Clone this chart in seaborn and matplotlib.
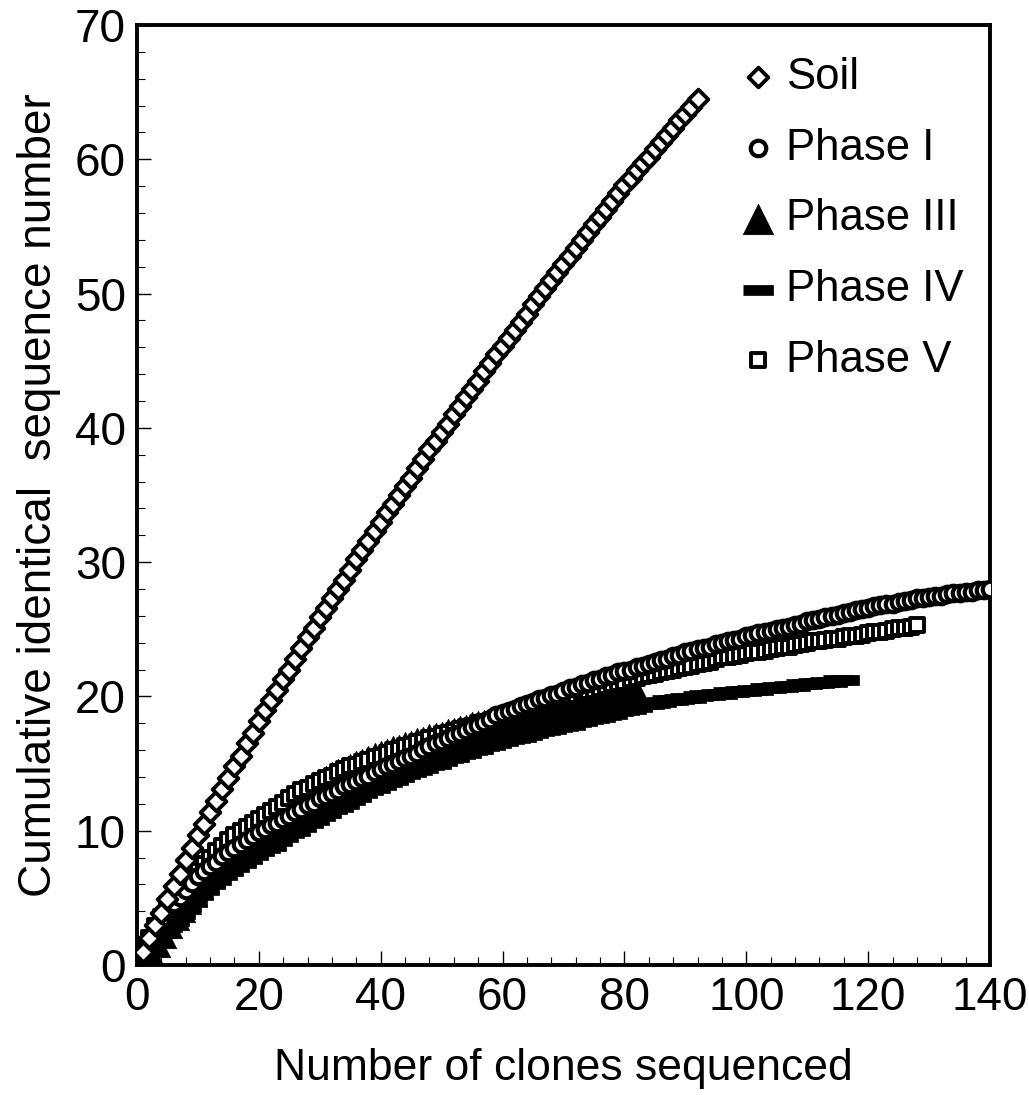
import numpy as np
import pandas as pd
import seaborn as sns
import matplotlib.pyplot as plt
from matplotlib.ticker import MultipleLocator

# === Seaborn settings ===
sns.set_theme(style="white")
plt.rcParams['font.family'] = ['Liberation Sans', 'DejaVu Sans']
plt.rcParams['text.color'] = 'black'
plt.rcParams['axes.labelcolor'] = 'black'
plt.rcParams['xtick.color'] = 'black'
plt.rcParams['ytick.color'] = 'black'

# === Data ===
soil = [1.0, 2.0, 3.0, 3.9, 4.9, 5.9, 6.8, 7.8, 8.7, 9.7,
        10.5, 11.4, 12.2, 13.1, 13.9, 14.8, 15.6, 16.5, 17.3, 18.2,
        19.0, 19.7, 20.5, 21.3, 22.0, 22.8, 23.6, 24.4, 25.1, 25.9,
        26.6, 27.3, 28.0, 28.7, 29.4, 30.2, 30.9, 31.6, 32.3, 33.0,
        33.7, 34.3, 35.0, 35.7, 36.3, 37.0, 37.7, 38.4, 39.0, 39.7,
        40.3, 41.0, 41.6, 42.3, 42.9, 43.5, 44.2, 44.8, 45.5, 46.1,
        46.7, 47.3, 47.9, 48.5, 49.2, 49.8, 50.4, 51.0, 51.6, 52.2,
        52.8, 53.4, 54.0, 54.6, 55.2, 55.7, 56.3, 56.9, 57.5, 58.1,
        58.6, 59.2, 59.7, 60.2, 60.8, 61.3, 61.8, 62.3, 62.9, 63.4,
        63.9, 64.5]

phase_1 = [1.0, 1.9, 2.7, 3.4, 4.0, 4.6, 5.1, 5.6, 6.1, 6.6,
           7.0, 7.4, 7.7, 8.1, 8.4, 8.7, 9.0, 9.3, 9.6, 9.9,
           10.1, 10.4, 10.6, 10.9, 11.1, 11.4, 11.6, 11.9, 12.1, 12.4,
           12.6, 12.8, 13.0, 13.3, 13.5, 13.7, 13.9, 14.1, 14.4, 14.6,
           14.8, 15.0, 15.2, 15.4, 15.6, 15.8, 16.1, 16.3, 16.5, 16.7,
           16.9, 17.1, 17.3, 17.5, 17.7, 17.9, 18.1, 18.3, 18.6, 18.8,
           18.9, 19.1, 19.3, 19.4, 19.6, 19.8, 19.9, 20.1, 20.2, 20.4,
           20.6, 20.7, 20.9, 21.0, 21.2, 21.3, 21.5, 21.6, 21.8, 21.9,
           22.0, 22.2, 22.3, 22.4, 22.6, 22.7, 22.8, 23.0, 23.1, 23.3,
           23.4, 23.5, 23.6, 23.7, 23.9, 24.0, 24.1, 24.2, 24.3, 24.5,
           24.6, 24.7, 24.8, 24.9, 25.0, 25.1, 25.2, 25.3, 25.4, 25.6,
           25.7, 25.8, 25.9, 26.0, 26.1, 26.2, 26.3, 26.4, 26.5, 26.6,
           26.7, 26.8, 26.9, 26.9, 27.0, 27.1, 27.2, 27.3, 27.3, 27.4,
           27.5, 27.5, 27.6, 27.7, 27.7, 27.8, 27.8, 27.9, 27.9, 28.0]

phase_3 = [0.4, 1.0, 1.7, 2.4, 3.1, 3.7, 4.3, 4.9, 5.5, 6.0,
           6.5, 7.0, 7.5, 8.0, 8.4, 8.8, 9.2, 9.6, 10.0, 10.4,
           10.8, 11.1, 11.5, 11.8, 12.1, 12.4, 12.7, 13.0, 13.2, 13.5,
           13.7, 14.0, 14.2, 14.4, 14.6, 14.8, 15.0, 15.2, 15.4, 15.6,
           15.7, 15.9, 16.0, 16.2, 16.3, 16.5, 16.6, 16.8, 16.9, 17.0,
           17.2, 17.3, 17.4, 17.5, 17.7, 17.8, 17.9, 18.0, 18.1, 18.2,
           18.3, 18.4, 18.5, 18.6, 18.7, 18.8, 18.9, 19.0, 19.1, 19.2,
           19.3, 19.4, 19.5, 19.6, 19.6, 19.7, 19.8, 19.9, 19.9, 20.0,
           20.1, 20.1]

phase_4 = [1.0, 1.5, 2.0, 2.4, 2.8, 3.3, 3.8, 4.3, 4.7, 5.2,
           5.6, 6.0, 6.3, 6.7, 7.0, 7.3, 7.6, 7.9, 8.2, 8.5,
           8.7, 8.9, 9.2, 9.5, 9.8, 10.0, 10.3, 10.6, 10.8, 11.1,
           11.3, 11.6, 11.8, 12.0, 12.3, 12.5, 12.8, 13.0, 13.2, 13.4,
           13.6, 13.8, 14.0, 14.2, 14.4, 14.5, 14.7, 14.9, 15.0, 15.2,
           15.4, 15.5, 15.7, 15.8, 16.0, 16.1, 16.3, 16.4, 16.5, 16.7,
           16.8, 16.9, 17.0, 17.1, 17.3, 17.4, 17.5, 17.6, 17.7, 17.8,
           17.9, 18.1, 18.2, 18.3, 18.4, 18.5, 18.6, 18.7, 18.9, 19.0,
           19.1, 19.2, 19.4, 19.4, 19.5, 19.6, 19.7, 19.7, 19.8, 19.9,
           19.9, 20.0, 20.1, 20.1, 20.2, 20.2, 20.3, 20.3, 20.4, 20.4,
           20.5, 20.5, 20.6, 20.6, 20.7, 20.7, 20.8, 20.8, 20.9, 20.9,
           21.0, 21.0, 21.1, 21.1, 21.2, 21.2]

phase_5 = [1.0, 2.0, 2.9, 3.6, 4.2, 4.8, 5.4, 6.0, 6.5, 7.0,
           7.5, 8.0, 8.5, 8.9, 9.3, 9.7, 10.0, 10.3, 10.6, 10.9,
           11.2, 11.5, 11.8, 12.1, 12.4, 12.7, 13.0, 13.2, 13.5, 13.7,
           13.9, 14.1, 14.4, 14.6, 14.8, 14.9, 15.1, 15.3, 15.5, 15.6,
           15.8, 16.0, 16.1, 16.3, 16.4, 16.6, 16.7, 16.9, 17.0, 17.2,
           17.3, 17.4, 17.6, 17.7, 17.8, 18.0, 18.1, 18.2, 18.4, 18.5,
           18.6, 18.8, 18.9, 19.0, 19.2, 19.3, 19.5, 19.6, 19.8, 19.9,
           20.0, 20.1, 20.3, 20.4, 20.5, 20.6, 20.8, 20.9, 21.0, 21.1,
           21.3, 21.4, 21.5, 21.6, 21.7, 21.8, 21.9, 22.0, 22.1, 22.2,
           22.3, 22.4, 22.5, 22.6, 22.8, 22.9, 22.9, 23.0, 23.1, 23.2,
           23.3, 23.3, 23.4, 23.5, 23.6, 23.7, 23.7, 23.8, 23.9, 24.0,
           24.1, 24.1, 24.2, 24.3, 24.3, 24.4, 24.5, 24.5, 24.6, 24.7,
           24.8, 24.8, 24.9, 25.0, 25.1, 25.1, 25.2, 25.3]

sample_names = ["Soil", "Phase I", "Phase III", "Phase IV", "Phase V"]
sample_values = [soil, phase_1, phase_3, phase_4, phase_5]

# === Tidy table ===
frames = []
for name, vals in zip(sample_names, sample_values):
    frames.append(pd.DataFrame({
        "Clones": np.arange(1, len(vals) + 1),
        "Identical": vals,
        "Sample": name,
    }))
df = pd.concat(frames, ignore_index=True)

# === Marker styles ===
dash = [(-1, -0.34), (1, -0.34), (1, 0.34), (-1, 0.34)]
styles = {
    "Soil": dict(marker="D", s=100, facecolor="white", edgecolor="black", linewidth=2.8),
    "Phase I": dict(marker="o", s=125, facecolor="white", edgecolor="black", linewidth=3.0),
    "Phase III": dict(marker="^", s=480, facecolor="black", edgecolor="black", linewidth=0.5),
    "Phase IV": dict(marker=dash, s=480, facecolor="black", edgecolor="black", linewidth=0.5),
    "Phase V": dict(marker="s", s=100, facecolor="white", edgecolor="black", linewidth=2.8),
}
draw_order = ["Phase III", "Phase IV", "Phase V", "Phase I", "Soil"]

# === Plot ===
fig, ax = plt.subplots(figsize=(10.29, 10.95), dpi=100)
fig.subplots_adjust(left=0.1331, right=0.9621, top=0.9772, bottom=0.1187)

handles = {}
for z, name in enumerate(draw_order):
    sub = df[df["Sample"] == name]
    sns.scatterplot(data=sub, x="Clones", y="Identical", ax=ax,
                    label=name, zorder=3 + z, legend=False, **styles[name])
    handles[name] = ax.collections[-1]

ax.set_xlim(0, 140)
ax.set_ylim(0, 70)
ax.xaxis.set_major_locator(MultipleLocator(20))
ax.xaxis.set_minor_locator(MultipleLocator(4))
ax.yaxis.set_major_locator(MultipleLocator(10))
ax.yaxis.set_minor_locator(MultipleLocator(2))
ax.tick_params(which="major", direction="in", length=10, width=1.0,
               labelsize=33, pad=8, left=True, bottom=True)
ax.tick_params(which="minor", direction="in", length=6, width=0.8,
               left=True, bottom=True)
for sp in ax.spines.values():
    sp.set_linewidth(2.8)
    sp.set_color("black")

ax.set_xlabel("Number of clones sequenced", fontsize=32, labelpad=20)
ax.set_ylabel("Cumulative identical  sequence number", fontsize=33, labelpad=10)

# === Legend ===
ax.legend([handles[n] for n in sample_names], sample_names,
          loc="upper right", bbox_to_anchor=(1.0, 0.994), frameon=False,
          fontsize=31.5, handletextpad=0.05, labelspacing=0.68,
          handlelength=1.2, borderaxespad=0.2)

plt.savefig("out.png", dpi=100)
